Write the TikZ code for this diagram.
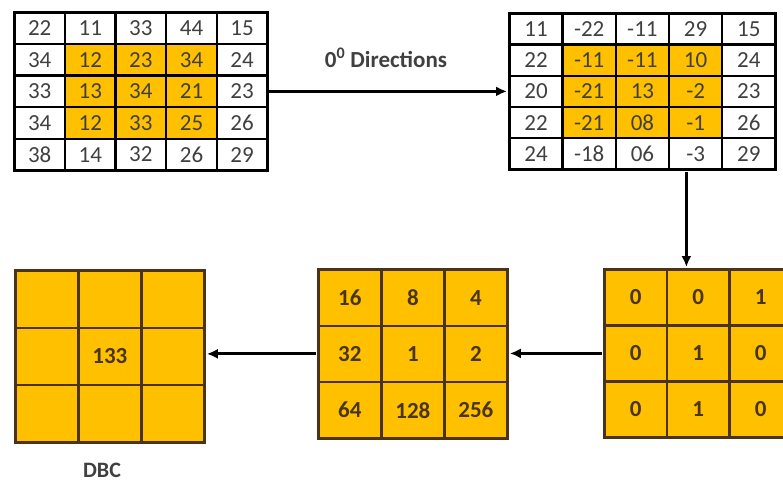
\documentclass[tikz,border=0pt]{standalone}
\usepackage{fontspec}
\setmainfont{Carlito}
\usetikzlibrary{matrix,arrows.meta}
\definecolor{gold}{HTML}{FFC000}
\definecolor{txt}{HTML}{404040}
\definecolor{btxt}{HTML}{4A3512}
\definecolor{edge}{HTML}{4A3318}
\tikzset{
  cell/.style={draw=black, line width=2.4pt, inner sep=0pt, anchor=center,
    text=txt, font=\fontsize{23}{23}\selectfont},
  hot/.style={fill=gold},
  bcell/.style={draw=edge, fill=gold, line width=2.4pt, inner sep=0pt,
    anchor=center, text=btxt, font=\bfseries\fontsize{23}{23}\selectfont},
  grid/.style={matrix of nodes, nodes in empty cells,
    column sep=-\pgflinewidth, row sep=-\pgflinewidth,
    anchor=north west, inner sep=0pt},
  arr/.style={line width=3pt, -{Latex[length=11pt,width=10pt]}},
}
\begin{document}
\begin{tikzpicture}[x=1pt,y=-1pt]
\useasboundingbox (0,0) rectangle (783,483);
\clip (0,0) rectangle (783,483);

% input block
\matrix (A) [grid, line width=2.4pt, nodes={cell, minimum width=50.6pt, minimum height=31.6pt}] at (12,10) {
22 & 11 & 33 & 44 & 15 \\
34 & |[hot]| 12 & |[hot]| 23 & |[hot]| 34 & 24 \\
33 & |[hot]| 13 & |[hot]| 34 & |[hot]| 21 & 23 \\
34 & |[hot]| 12 & |[hot]| 33 & |[hot]| 25 & 26 \\
38 & 14 & 32 & 26 & 29 \\
};

% differences along the 0 degree direction
\matrix (B) [grid, line width=2.4pt, nodes={cell, minimum width=53.2pt, minimum height=31.2pt}] at (507,11) {
11 & -22 & -11 & 29 & 15 \\
22 & |[hot]| -11 & |[hot]| -11 & |[hot]| 10 & 24 \\
20 & |[hot]| -21 & |[hot]| 13 & |[hot]| -2 & 23 \\
22 & |[hot]| -21 & |[hot]| 08 & |[hot]| -1 & 26 \\
24 & -18 & 06 & -3 & 29 \\
};

% binary pattern
\matrix (C) [grid, line width=2.4pt, nodes={bcell, minimum width=62.5pt, minimum height=56pt}] at (602,267) {
0 & 0 & 1 \\
0 & 1 & 0 \\
0 & 1 & 0 \\
};

% weights
\matrix (D) [grid, line width=2.4pt, nodes={bcell, minimum width=63pt, minimum height=56.3pt}] at (316,267) {
16 & 8 & 4 \\
32 & 1 & 2 \\
64 & 128 & 256 \\
};

% resulting code
\matrix (E) [grid, line width=2.4pt, nodes={bcell, minimum width=63pt, minimum height=57.3pt}] at (13,268) {
 & & \\
 & 133 & \\
 & & \\
};

\node (dir) [text=txt, font=\bfseries\fontsize{23}{23}\selectfont] at (386,58)
  {0\textsuperscript{0} Directions};
\node (dbc) [text=txt, font=\bfseries\fontsize{22}{22}\selectfont] at (102,470) {DBC};

\draw[arr] (A-3-5.east) -- (A-3-5.east -| B.west);
\draw[arr] ([xshift=44pt]B.south) -- ([xshift=44pt]B.south |- C.north);
\draw[arr] (C.west) -- (C.west -| D.east);
\draw[arr] (D.west) -- (D.west -| E.east);
\end{tikzpicture}
\end{document}
